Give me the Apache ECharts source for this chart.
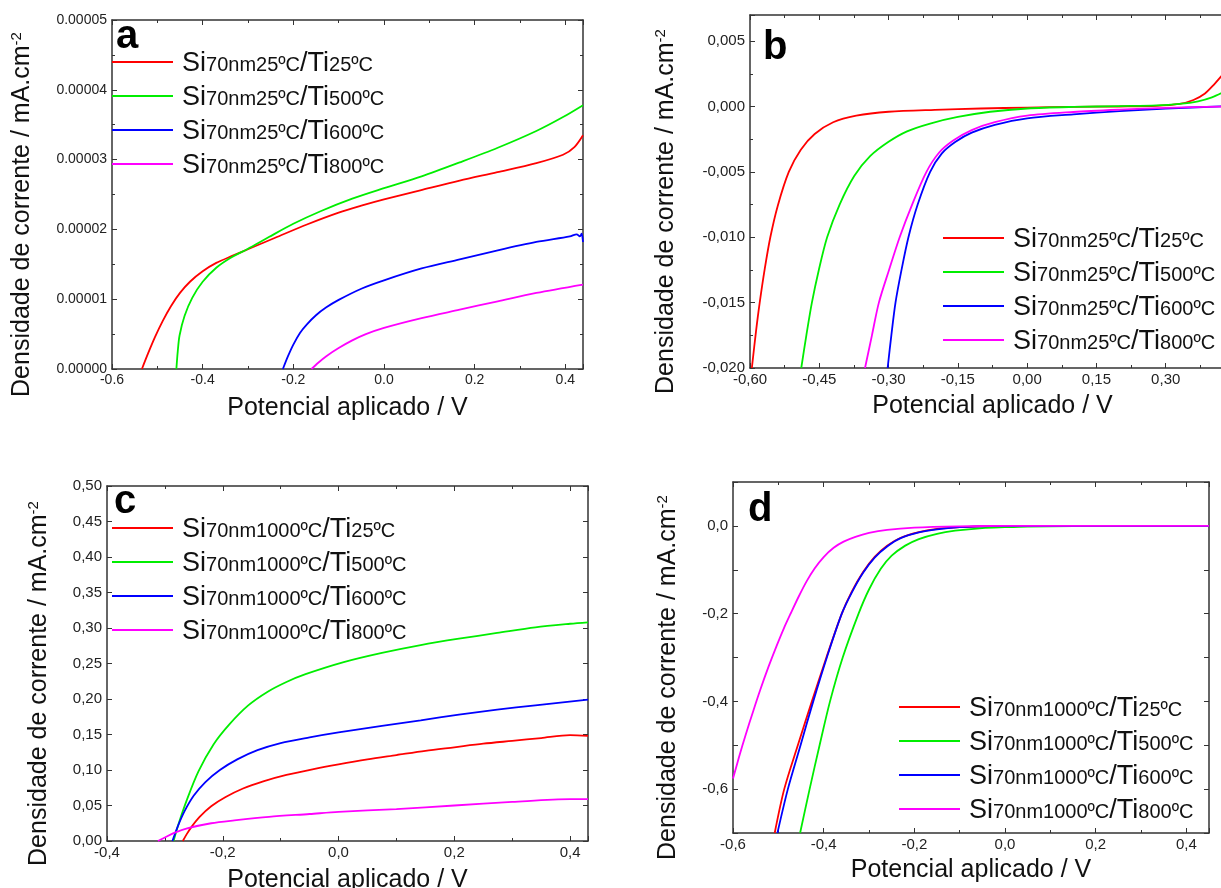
<!DOCTYPE html>
<html><head><meta charset="utf-8">
<script src="https://cdn.jsdelivr.net/npm/echarts/dist/echarts.min.js"></script>
<style>html,body{margin:0;padding:0;background:#fff}#c{width:1221px;height:888px}</style>
</head><body><div id="c"></div>
<script>
// ---------- data ----------
const namesA = ['Si70nm25ºC/Ti25ºC','Si70nm25ºC/Ti500ºC','Si70nm25ºC/Ti600ºC','Si70nm25ºC/Ti800ºC'];
const namesC = ['Si70nm1000ºC/Ti25ºC','Si70nm1000ºC/Ti500ºC','Si70nm1000ºC/Ti600ºC','Si70nm1000ºC/Ti800ºC'];
const colors = ['#ff0000','#00ee00','#0000ff','#ff00ff'];
const panelLabels = ['a','b','c','d'];
const xName = 'Potencial aplicado / V';
const yName = 'Densidade de corrente / mA.cm{sup|-2}';

// panel a
const a_Ti25 = [[-0.534,0],[-0.52,2.3e-6],[-0.505,4.6e-6],[-0.488,6.9e-6],[-0.47,9.0e-6],[-0.45,10.9e-6],[-0.428,12.5e-6],[-0.40,14.0e-6],[-0.37,15.2e-6],[-0.335,16.2e-6],[-0.295,17.3e-6],[-0.24,18.8e-6],[-0.17,20.7e-6],[-0.1,22.4e-6],[-0.05,23.4e-6],[0,24.3e-6],[0.08,25.6e-6],[0.167,27.0e-6],[0.25,28.2e-6],[0.336,29.5e-6],[0.395,30.7e-6],[0.42,31.8e-6],[0.439,33.5e-6]];
const a_Ti500 = [[-0.458,0],[-0.455,2.5e-6],[-0.451,4.8e-6],[-0.44,7.6e-6],[-0.423,10.2e-6],[-0.4,12.5e-6],[-0.37,14.5e-6],[-0.339,15.9e-6],[-0.301,17.2e-6],[-0.254,18.9e-6],[-0.2,20.8e-6],[-0.14,22.6e-6],[-0.07,24.4e-6],[0,25.9e-6],[0.083,27.6e-6],[0.167,29.6e-6],[0.251,31.7e-6],[0.336,34.1e-6],[0.395,36.1e-6],[0.439,37.8e-6]];
const a_Ti600 = [[-0.223,0],[-0.212,1.8e-6],[-0.2,3.5e-6],[-0.185,5.2e-6],[-0.17,6.4e-6],[-0.15,7.7e-6],[-0.128,8.8e-6],[-0.1,9.9e-6],[-0.05,11.5e-6],[0,12.7e-6],[0.083,14.4e-6],[0.167,15.7e-6],[0.251,17.0e-6],[0.336,18.2e-6],[0.41,19.0e-6],[0.425,19.3e-6],[0.432,19.0e-6],[0.436,19.4e-6],[0.439,18.2e-6]];
const a_Ti800 = [[-0.16,0],[-0.145,0.9e-6],[-0.128,1.8e-6],[-0.1,3.0e-6],[-0.07,4.1e-6],[-0.04,5.0e-6],[0,5.9e-6],[0.083,7.3e-6],[0.167,8.5e-6],[0.251,9.7e-6],[0.336,10.9e-6],[0.439,12.1e-6]];

// panel b
const b_Ti25 = [[-0.596,-0.020],[-0.587,-0.0172],[-0.579,-0.0150],[-0.568,-0.0124],[-0.556,-0.0100],[-0.540,-0.0076],[-0.516,-0.0050],[-0.49,-0.0033],[-0.46,-0.0021],[-0.42,-0.0012],[-0.37,-0.0007],[-0.30,-0.0004],[-0.2,-0.00025],[-0.1,-0.00015],[0.0,-0.00008],[0.1,-0.00003],[0.2,0],[0.28,0.00005],[0.33,0.0002],[0.36,0.0005],[0.385,0.0010],[0.405,0.0017],[0.42,0.0023],[0.43,0.0027]];
const b_Ti500 = [[-0.489,-0.020],[-0.478,-0.0175],[-0.466,-0.0150],[-0.451,-0.0125],[-0.433,-0.0100],[-0.406,-0.0075],[-0.374,-0.0053],[-0.34,-0.0038],[-0.30,-0.0027],[-0.26,-0.0019],[-0.21,-0.0013],[-0.15,-0.0008],[-0.08,-0.0004],[0,-0.00015],[0.1,-0.00003],[0.2,0.00003],[0.28,0.00008],[0.33,0.0002],[0.37,0.0004],[0.40,0.0007],[0.43,0.0012]];
const b_Ti600 = [[-0.302,-0.020],[-0.294,-0.0175],[-0.285,-0.0150],[-0.272,-0.0125],[-0.257,-0.0100],[-0.237,-0.0075],[-0.21,-0.0050],[-0.185,-0.0036],[-0.155,-0.0027],[-0.12,-0.0020],[-0.07,-0.0014],[0,-0.0009],[0.1,-0.0006],[0.2,-0.00035],[0.3,-0.00016],[0.43,0.00003]];
const b_Ti800 = [[-0.351,-0.020],[-0.336,-0.0175],[-0.321,-0.0150],[-0.299,-0.0125],[-0.276,-0.0100],[-0.249,-0.0075],[-0.218,-0.0050],[-0.19,-0.0035],[-0.16,-0.0026],[-0.12,-0.0018],[-0.07,-0.0012],[0,-0.0007],[0.1,-0.00042],[0.2,-0.00024],[0.3,-0.0001],[0.43,0]];

// panel c
const c_Ti25 = [[-0.269,0],[-0.262,0.01],[-0.253,0.021],[-0.24,0.034],[-0.22,0.049],[-0.195,0.062],[-0.165,0.074],[-0.13,0.084],[-0.09,0.093],[-0.045,0.101],[0,0.108],[0.05,0.115],[0.1,0.121],[0.15,0.127],[0.2,0.132],[0.25,0.137],[0.3,0.141],[0.35,0.145],[0.4,0.149],[0.431,0.148]];
const c_Ti500 = [[-0.285,0],[-0.276,0.025],[-0.262,0.058],[-0.242,0.098],[-0.216,0.136],[-0.189,0.164],[-0.156,0.191],[-0.123,0.21],[-0.09,0.224],[-0.057,0.235],[0.009,0.252],[0.075,0.265],[0.142,0.276],[0.208,0.285],[0.274,0.293],[0.34,0.301],[0.4,0.306],[0.431,0.308]];
const c_Ti600 = [[-0.287,0],[-0.278,0.02],[-0.266,0.042],[-0.25,0.064],[-0.23,0.083],[-0.205,0.1],[-0.175,0.115],[-0.14,0.128],[-0.1,0.138],[-0.05,0.146],[0,0.153],[0.075,0.162],[0.142,0.17],[0.208,0.178],[0.274,0.185],[0.34,0.191],[0.431,0.199]];
const c_Ti800 = [[-0.312,0],[-0.3,0.005],[-0.285,0.011],[-0.26,0.018],[-0.22,0.025],[-0.18,0.029],[-0.12,0.034],[-0.05,0.038],[0,0.041],[0.1,0.045],[0.2,0.05],[0.3,0.055],[0.4,0.059],[0.431,0.059]];

// panel d
const d_Ti25 = [[-0.508,-0.7],[-0.487,-0.6],[-0.457,-0.5],[-0.426,-0.4],[-0.394,-0.3],[-0.36,-0.2],[-0.338,-0.15],[-0.313,-0.105],[-0.287,-0.07],[-0.26,-0.045],[-0.23,-0.027],[-0.19,-0.014],[-0.15,-0.007],[-0.1,-0.003],[-0.05,-0.001],[0,0],[0.2,0],[0.45,0]];
const d_Ti500 = [[-0.452,-0.7],[-0.431,-0.6],[-0.409,-0.5],[-0.386,-0.4],[-0.358,-0.3],[-0.323,-0.2],[-0.3,-0.145],[-0.274,-0.098],[-0.25,-0.068],[-0.22,-0.045],[-0.19,-0.03],[-0.15,-0.018],[-0.11,-0.011],[-0.05,-0.005],[0,-0.003],[0.05,-0.0015],[0.15,-0.0005],[0.25,0],[0.45,0]];
const d_Ti600 = [[-0.502,-0.7],[-0.479,-0.6],[-0.451,-0.5],[-0.423,-0.4],[-0.393,-0.3],[-0.36,-0.2],[-0.338,-0.152],[-0.313,-0.107],[-0.287,-0.072],[-0.26,-0.047],[-0.23,-0.028],[-0.19,-0.015],[-0.15,-0.008],[-0.1,-0.003],[-0.05,-0.001],[0,0],[0.2,0],[0.45,0]];
const d_Ti800 = [[-0.6,-0.576],[-0.587,-0.528],[-0.572,-0.476],[-0.556,-0.424],[-0.54,-0.374],[-0.522,-0.322],[-0.504,-0.274],[-0.488,-0.234],[-0.472,-0.198],[-0.455,-0.161],[-0.438,-0.127],[-0.42,-0.097],[-0.4,-0.071],[-0.378,-0.05],[-0.356,-0.036],[-0.33,-0.025],[-0.3,-0.016],[-0.26,-0.009],[-0.2,-0.004],[-0.1,-0.001],[0,0],[0.2,0],[0.45,0]];

// ---------- styling / layout ----------
const FONT = "'Liberation Sans', Arial, Helvetica, sans-serif";
const INK = '#111';
const AX = '#333';

function fmt(dec, step, comma) {
  return function (v) {
    const k = v / step;
    if (Math.abs(k - Math.round(k)) > 1e-6) return '';
    let s = (Math.round(k) * step).toFixed(dec);
    if (/^-0[.,]?0*$/.test(s)) s = s.slice(1);
    return comma ? s.replace('.', ',') : s;
  };
}

const grids = [
  {left:112, right:638, top:20, bottom:519, outerBoundsMode:'none'},
  {left:750, right:-14, top:15, bottom:520, outerBoundsMode:'none'},
  {left:107, right:633, top:486, bottom:47, outerBoundsMode:'none'},
  {left:733, right:12, top:482, bottom:55, outerBoundsMode:'none'}
];

const xSpec = [
  {min:-0.6, max:0.439, interval:0.2, f:fmt(1,0.2,false), fs:14, gap:27, minor:true},
  {min:-0.6, max:0.45, interval:0.15, f:fmt(2,0.15,true), fs:15, gap:26, minor:true},
  {min:-0.4, max:0.431, interval:0.2, f:fmt(1,0.2,true), fs:15, gap:27, minor:true},
  {min:-0.6, max:0.45, interval:0.2, f:fmt(1,0.2,true), fs:15, gap:25, minor:true}
];
const ySpec = [
  {min:0, max:0.00005, interval:0.00001, f:fmt(5,0.00001,false), fs:14, gap:76, minor:true},
  {min:-0.02, max:0.007, interval:0.005, f:fmt(3,0.005,true), fs:15, gap:70, minor:true},
  {min:0, max:0.5, interval:0.05, f:fmt(2,0.05,true), fs:15, gap:54, minor:false},
  {min:-0.7, max:0.1, interval:0.1, f:fmt(1,0.2,true), fs:15, gap:51, minor:false}
];

const xAxes = [], yAxes = [];
for (let i = 0; i < 4; i++) {
  const xs = xSpec[i], ys = ySpec[i];
  const common = {
    axisLine:{show:true, onZero:false, lineStyle:{color:AX, width:1.5}},
    axisTick:{show:true, inside:true, length:5, lineStyle:{color:AX, width:1}},
    splitLine:{show:false}
  };
  xAxes.push(Object.assign({}, common, {
    type:'value', gridIndex:i, position:'bottom', min:xs.min, max:xs.max, interval:xs.interval,
    minorTick:{show:xs.minor, splitNumber:2, length:3, lineStyle:{color:AX}},
    axisLabel:{formatter:xs.f, fontSize:xs.fs, fontFamily:FONT, color:'#222', margin:4, showMaxLabel:true},
    name:xName, nameLocation:'middle', nameGap:xs.gap,
    nameTextStyle:{fontSize:25, fontFamily:FONT, color:INK, verticalAlign:'top'}
  }));
  yAxes.push(Object.assign({}, common, {
    type:'value', gridIndex:i, position:'left', min:ys.min, max:ys.max, interval:ys.interval,
    minorTick:{show:ys.minor, splitNumber:2, length:3, lineStyle:{color:AX}},
    axisLabel:{formatter:ys.f, fontSize:ys.fs, fontFamily:FONT, color:'#222', margin:5},
    name:yName, nameLocation:'middle', nameGap:ys.gap,
    nameTextStyle:{fontSize:25, fontFamily:FONT, color:INK, padding:[0,40,0,0],
      rich:{sup:{fontSize:15, fontFamily:FONT, color:INK, padding:[0,0,12,0]}}}
  }));
}
// mirrored top / right axes (ticks only)
for (let i = 0; i < 4; i++) {
  const xs = xSpec[i], ys = ySpec[i];
  const common = {
    axisLine:{show:true, onZero:false, lineStyle:{color:AX, width:1.5}},
    axisTick:{show:true, inside:true, length:5, lineStyle:{color:AX, width:1}},
    axisLabel:{show:false}, splitLine:{show:false}
  };
  xAxes.push(Object.assign({}, common, {type:'value', gridIndex:i, position:'top', min:xs.min, max:xs.max, interval:xs.interval,
    minorTick:{show:xs.minor, splitNumber:2, length:3, lineStyle:{color:AX}}}));
  yAxes.push(Object.assign({}, common, {type:'value', gridIndex:i, position:'right', min:ys.min, max:ys.max, interval:ys.interval,
    minorTick:{show:ys.minor, splitNumber:2, length:3, lineStyle:{color:AX}}}));
}

const panelData = [
  [a_Ti25, a_Ti500, a_Ti600, a_Ti800],
  [b_Ti25, b_Ti500, b_Ti600, b_Ti800],
  [c_Ti25, c_Ti500, c_Ti600, c_Ti800],
  [d_Ti25, d_Ti500, d_Ti600, d_Ti800]
];
const panelNames = [namesA, namesA, namesC, namesC];

const series = [];
for (let p = 0; p < 4; p++) {
  for (let s = 0; s < 4; s++) {
    series.push({
      type:'line', name:panelNames[p][s], data:panelData[p][s],
      xAxisIndex:p, yAxisIndex:p, symbol:'none', showSymbol:false,
      smooth:0.3, clip:true,
      lineStyle:{color:colors[s], width:1.8}, itemStyle:{color:colors[s]},
      emphasis:{disabled:true}
    });
  }
}

function legendFmt(name) {
  const m = name.match(/^Si(.*)\/Ti(.*)$/);
  return '{g|}{b|Si}{s|' + m[1] + '}{b|/Ti}{s|' + m[2] + '}';
}
const legendPos = [
  {left:112, top:50},
  {left:943, top:226},
  {left:112, top:516},
  {left:899, top:695}
];
const legends = legendPos.map((pos, p) => ({
  show:true, orient:'vertical', left:pos.left, top:pos.top, padding:0,
  data:panelNames[p], icon:'rect', itemWidth:61, itemHeight:2, itemGap:7,
  selectedMode:false, formatter:legendFmt,
  textStyle:{color:INK, fontFamily:FONT, fontSize:20,
    rich:{
      g:{width:4},
      b:{fontSize:27, fontFamily:FONT, color:INK, lineHeight:30, verticalAlign:'bottom'},
      s:{fontSize:20, fontFamily:FONT, color:INK, lineHeight:30, verticalAlign:'bottom', padding:[0,0,2,0]}
    }}
}));

const titlePos = [{left:116, top:17},{left:763, top:28},{left:114, top:482},{left:748, top:490}];
const titles = titlePos.map((pos, i) => ({
  text:panelLabels[i], left:pos.left, top:pos.top, padding:0,
  textStyle:{fontSize:40, fontWeight:'bold', fontFamily:FONT, color:'#000'}
}));

const chart = echarts.init(document.getElementById('c'), null, {renderer:'canvas'});
chart.setOption({
  animation:false,
  backgroundColor:'#fff',
  title:titles,
  legend:legends,
  grid:grids,
  xAxis:xAxes,
  yAxis:yAxes,
  series:series
});
</script>
</body></html>
